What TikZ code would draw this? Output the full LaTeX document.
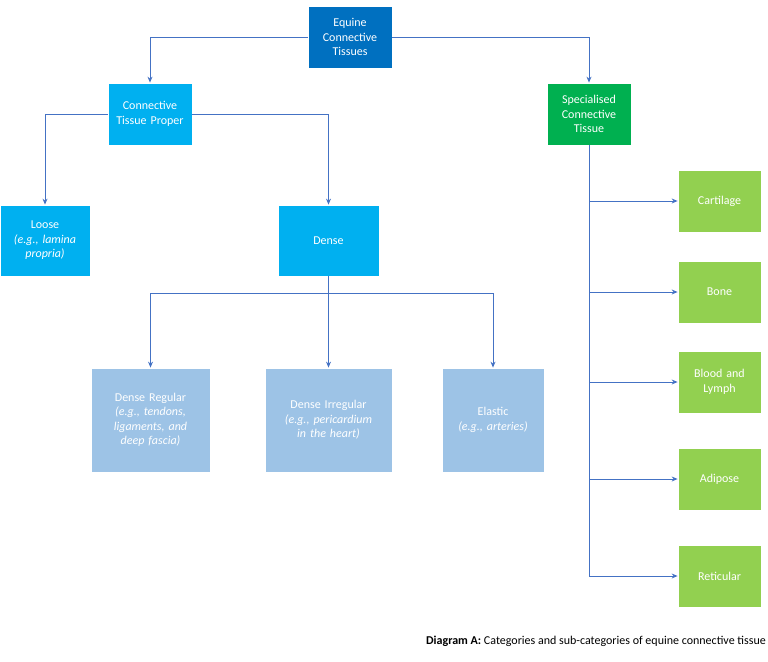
\documentclass[tikz,border=0pt]{standalone}
\usepackage{fontspec}
\setmainfont{Carlito}
\usetikzlibrary{arrows.meta}
\definecolor{dblue}{HTML}{0070C0}
\definecolor{cyanb}{HTML}{00B0F0}
\definecolor{dgreen}{HTML}{00B050}
\definecolor{lblue}{HTML}{9DC3E6}
\definecolor{lgreen}{HTML}{92D050}
\definecolor{line}{HTML}{4472C4}
\begin{document}
\begin{tikzpicture}[x=1pt,y=-1pt,
 box/.style={draw=white,line width=0.8pt,text=white,align=center,font=\fontsize{12}{14.5}\selectfont,inner sep=2pt},
 con/.style={draw=line,line width=0.9pt,-{Stealth[length=6pt,width=5pt]}}]
\useasboundingbox (0,0) rectangle (768,661);
\newcommand\bx[7]{\node[box,fill=#6,minimum width={#3-#2},minimum height={#5-#4},text width={#3-#2-8}] (#1) at ({(#2+#3)/2},{(#4+#5)/2}) {#7};}
\bx{eq}{308}{392}{6}{68}{dblue}{Equine\\Connective\\Tissues}
\bx{ctp}{108}{192}{83}{145}{cyanb}{Connective\\Tissue Proper}
\bx{sp}{547}{631}{83}{145}{dgreen}{Specialised\\Connective\\Tissue}
\bx{lo}{0}{90}{205}{276}{cyanb}{Loose\\\textit{(e.g., lamina propria)}}
\bx{de}{278}{379}{205}{276}{cyanb}{Dense}
\bx{dr}{91}{210}{368}{472}{lblue}{Dense Regular\\\textit{(e.g., tendons, ligaments, and deep fascia)}}
\bx{di}{265}{392}{368}{472}{lblue}{Dense Irregular\\\textit{(e.g., pericardium in the heart)}}
\bx{el}{442}{544}{368}{472}{lblue}{Elastic\\\textit{(e.g., arteries)}}
\bx{ca}{678}{761}{170}{232}{lgreen}{Cartilage}
\bx{bo}{678}{761}{261}{323}{lgreen}{Bone}
\bx{bl}{678}{761}{351}{413}{lgreen}{Blood and\\Lymph}
\bx{ad}{678}{761}{448}{510}{lgreen}{Adipose}
\bx{re}{678}{761}{545}{607}{lgreen}{Reticular}
\draw[con] (eq.west) -| (ctp.north);
\draw[con] (eq.east) -| (sp.north);
\draw[con] (ctp.west) -| (lo.north);
\draw[con] (ctp.east) -| (de.north);
\coordinate (j) at (328,293);
\draw[con] (de.south) -- (di.north);
\draw[con] (j) -| (dr.north);
\draw[con] (j) -| (el.north);
\foreach \t in {ca,bo,bl,ad,re}{\draw[con] (sp.south) |- (\t.west);}
\node[anchor=east,font=\fontsize{12}{14}\selectfont,inner sep=0] (cap) at (766,641) {\textbf{Diagram A:} Categories and sub-categories of equine connective tissue};
\end{tikzpicture}
\end{document}
